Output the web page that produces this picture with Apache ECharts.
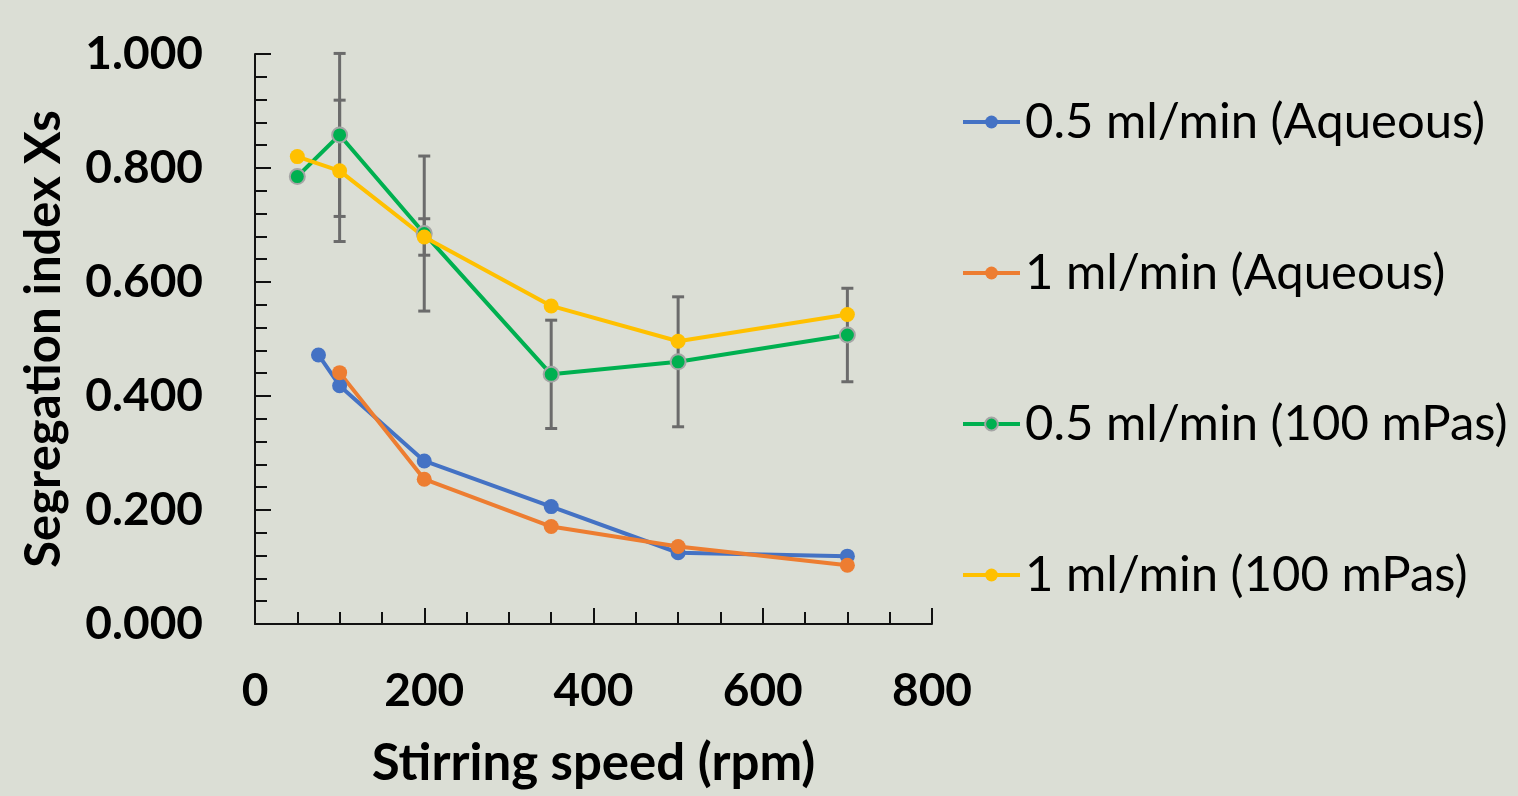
<!DOCTYPE html>
<html>
<head>
<meta charset="utf-8">
<script src="https://cdn.jsdelivr.net/npm/echarts@6/dist/echarts.min.js"></script>
<style>
  html, body { margin: 0; padding: 0; background: #dbded5; }
  #graph { width: 1518px; height: 796px; }
</style>
</head>
<body>
<div id="graph"></div>
<script>
// data
var seriesNames = ['0.5 ml/min (Aqueous)', '1 ml/min (Aqueous)', '0.5 ml/min (100 mPas)', '1 ml/min (100 mPas)'];
var seriesColors = ['#4472c4', '#ed7d31', '#00b050', '#ffc000'];

var xBlue = [75, 100, 200, 350, 500, 700];
var yBlue = [0.472, 0.418, 0.286, 0.206, 0.125, 0.119];

var xOrange = [100, 200, 350, 500, 700];
var yOrange = [0.441, 0.254, 0.171, 0.136, 0.103];

var xGreen = [50, 100, 200, 350, 500, 700];
var yGreen = [0.785, 0.858, 0.685, 0.438, 0.460, 0.507];
var errGreen = [0, 0.143, 0.136, 0.095, 0.114, 0.082];

var xYellow = [50, 100, 200, 350, 500, 700];
var yYellow = [0.820, 0.795, 0.679, 0.558, 0.496, 0.543];
var errYellow = [0, 0.124, 0.032, 0, 0, 0];

var xTicks = [0, 200, 400, 600, 800];
var yTicks = [0, 0.2, 0.4, 0.6, 0.8, 1.0];

function pairs(xs, ys) {
    return xs.map(function (x, i) { return [x, ys[i]]; });
}
function errData(xs, ys, es) {
    var out = [];
    xs.forEach(function (x, i) {
        if (es[i] > 0) out.push([x, ys[i], es[i]]);
    });
    return out;
}

// error bar: vertical line with caps
function renderErr(params, api) {
    var x = api.value(0), y = api.value(1), e = api.value(2);
    var top = api.coord([x, y + e]);
    var bot = api.coord([x, y - e]);
    var cap = 6;
    var st = { stroke: '#6b6b6b', lineWidth: 3 };
    return {
        type: 'group',
        children: [
            { type: 'line', shape: { x1: top[0], y1: top[1], x2: bot[0], y2: bot[1] }, style: st },
            { type: 'line', shape: { x1: top[0] - cap, y1: top[1], x2: top[0] + cap, y2: top[1] }, style: st },
            { type: 'line', shape: { x1: bot[0] - cap, y1: bot[1], x2: bot[0] + cap, y2: bot[1] }, style: st }
        ]
    };
}

var FONT = 'Lato, "Open Sans", sans-serif';

function lineSeries(i, data) {
    var s = {
        name: seriesNames[i],
        type: 'line',
        data: data,
        symbol: 'circle',
        symbolSize: 15,
        z: 3,
        lineStyle: { color: seriesColors[i], width: 4 },
        itemStyle: { color: seriesColors[i] },
        emphasis: { disabled: true }
    };
    if (i == 2) {
        s.itemStyle = { color: seriesColors[i], borderColor: '#a5a5a5', borderWidth: 2 };
    }
    return s;
}

var myChart = echarts.init(document.getElementById('graph'));
var option = {
    backgroundColor: '#dbded5',
    animation: false,
    grid: { left: 255, right: 586, top: 54, bottom: 172 },
    legend: {
        orient: 'vertical',
        left: 956,
        top: 86,
        itemWidth: 57,
        itemHeight: 16,
        itemGap: 89,
        data: seriesNames,
        lineStyle: { width: 4 },
        textStyle: { fontFamily: FONT, fontSize: 49, color: '#000', lineHeight: 62 }
    },
    xAxis: {
        type: 'value',
        min: 0,
        max: 800,
        interval: 200,
        name: 'Stirring speed (rpm)',
        nameLocation: 'middle',
        nameGap: 114,
        nameTextStyle: { fontFamily: FONT, fontSize: 51, fontWeight: 'bold', color: '#000' },
        axisLine: { show: true, onZero: false, lineStyle: { color: '#111', width: 2 } },
        axisTick: { show: true, inside: true, length: 16, lineStyle: { color: '#111', width: 2 } },
        minorTick: { show: true, splitNumber: 4, length: 12, lineStyle: { color: '#111', width: 2 } },
        splitLine: { show: false },
        axisLabel: { margin: 44, fontFamily: FONT, fontSize: 46, fontWeight: 'bold', color: '#000' }
    },
    yAxis: {
        type: 'value',
        min: 0,
        max: 1,
        interval: 0.2,
        name: 'Segregation index Xs',
        nameLocation: 'middle',
        nameGap: 186,
        nameTextStyle: { fontFamily: FONT, fontSize: 49, fontWeight: 'bold', color: '#000' },
        axisLine: { show: true, lineStyle: { color: '#111', width: 2 } },
        axisTick: { show: true, inside: true, length: 16, lineStyle: { color: '#111', width: 2 } },
        minorTick: { show: true, splitNumber: 5, length: 12, lineStyle: { color: '#111', width: 2 } },
        splitLine: { show: false },
        axisLabel: {
            margin: 52,
            fontFamily: FONT, fontSize: 46, fontWeight: 'bold', color: '#000',
            formatter: function (v) { return v.toFixed(3); }
        }
    },
    series: [
        {
            type: 'custom',
            renderItem: renderErr,
            data: errData(xGreen, yGreen, errGreen),
            encode: { x: 0, y: [1, 2] },
            z: 1,
            silent: true
        },
        {
            type: 'custom',
            renderItem: renderErr,
            data: errData(xYellow, yYellow, errYellow),
            encode: { x: 0, y: [1, 2] },
            z: 1,
            silent: true
        },
        lineSeries(0, pairs(xBlue, yBlue)),
        lineSeries(1, pairs(xOrange, yOrange)),
        lineSeries(2, pairs(xGreen, yGreen)),
        lineSeries(3, pairs(xYellow, yYellow))
    ]
};
myChart.setOption(option);
</script>
</body>
</html>
